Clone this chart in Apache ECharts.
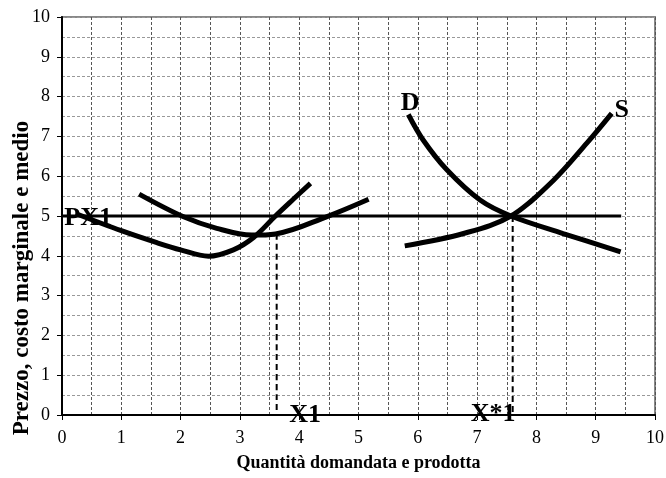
<!DOCTYPE html>
<html>
<head>
<meta charset="utf-8">
<script src="https://cdn.jsdelivr.net/npm/echarts@6/dist/echarts.min.js"></script>
<style>
  html, body { margin: 0; padding: 0; background: #fff; }
  #chart { width: 666px; height: 478px; }
</style>
</head>
<body>
<div id="chart"></div>
<script>
// curve points [quantity, price]
const marginalCost = [[0.25, 5.05], [1.0, 4.63], [1.6, 4.33], [2.0, 4.15], [2.47, 3.99], [2.89, 4.15], [3.23, 4.46], [3.6, 5.0], [3.9, 5.42], [4.19, 5.82]];
const averageCost = [[1.3, 5.55], [2.05, 4.98], [2.61, 4.69], [3.2, 4.52], [3.6, 4.55], [4.46, 4.98], [5.17, 5.42]];
const demand = [[5.84, 7.55], [6.09, 6.91], [6.49, 6.16], [7.05, 5.4], [7.57, 5.0], [8.45, 4.56], [9.42, 4.1]];
const supply = [[5.78, 4.25], [6.77, 4.56], [7.57, 5.0], [8.29, 5.9], [8.85, 6.83], [9.27, 7.58]];
const priceLine = [[0, 5], [9.43, 5]];
const dropX1 = [[3.62, 4.55], [3.62, 0]];
const dropXstar = [[7.6, 5.0], [7.6, 0]];
const textLabels = [[0.44, 4.95, "PX1"], [5.87, 7.83, "D"], [9.44, 7.66, "S"], [4.1, 0, "X1"], [7.27, 0.03, "X*1"]];

const font = "'Liberation Serif', 'DejaVu Serif', serif";

let chart = echarts.init(document.getElementById("chart"));

function curve(data, width, type) {
  return {
    type: "line",
    data: data,
    smooth: 0.35,
    symbol: "none",
    silent: true,
    lineStyle: { color: "#000", width: width, type: type || "solid" },
  };
}

const option = {
  animation: false,
  grid: {
    left: 62,
    right: 11,
    top: 17,
    bottom: 63,
    outerBoundsMode: "none",
    containLabel: false,
    show: true,
    borderColor: "#888",
    borderWidth: 2,
  },
  xAxis: {
    type: "value",
    min: 0,
    max: 10,
    interval: 1,
    name: "Quantità domandata e prodotta",
    nameLocation: "middle",
    nameGap: 39,
    nameMoveOverlap: false,
    nameTextStyle: { fontFamily: font, fontWeight: "bold", fontSize: 18, color: "#000" },
    axisLine: { show: true, lineStyle: { color: "#000", width: 2 } },
    axisTick: { show: true, length: 5, lineStyle: { color: "#000" } },
    axisLabel: { fontFamily: font, fontSize: 18, color: "#000", margin: 14 },
    splitLine: { show: true, lineStyle: { color: "#555", type: [3, 2], width: 1 } },
    minorTick: { show: false, splitNumber: 2 },
    minorSplitLine: { show: true, lineStyle: { color: "#555", type: [3, 2], width: 1 } },
  },
  yAxis: {
    type: "value",
    min: 0,
    max: 10,
    interval: 1,
    name: "Prezzo, costo marginale e medio",
    nameLocation: "middle",
    nameGap: 28,
    nameMoveOverlap: false,
    nameTextStyle: {
      fontFamily: font,
      fontWeight: "bold",
      fontSize: 23,
      color: "#000",
      padding: [0, 124, 0, 0],
    },
    axisLine: { show: true, lineStyle: { color: "#000", width: 2 } },
    axisTick: { show: true, length: 5, lineStyle: { color: "#000" } },
    axisLabel: { fontFamily: font, fontSize: 18, color: "#000", margin: 12 },
    splitLine: { show: true, lineStyle: { color: "#999", type: [3, 2], width: 1 } },
    minorTick: { show: false, splitNumber: 2 },
    minorSplitLine: { show: true, lineStyle: { color: "#999", type: [3, 2], width: 1 } },
  },
  series: [
    curve(priceLine, 3),
    curve(dropX1, 2, [6, 4]),
    curve(dropXstar, 2, [6, 4]),
    curve(averageCost, 5),
    curve(marginalCost, 5),
    curve(demand, 5),
    curve(supply, 5),
    {
      type: "scatter",
      symbolSize: 0,
      silent: true,
      data: textLabels,
      itemStyle: { opacity: 1 },
      label: {
        show: true,
        position: "inside",
        formatter: (p) => p.data[2],
        fontFamily: font,
        fontWeight: "bold",
        fontSize: 26,
        color: "#000",
        opacity: 1,
      },
      z: 10,
    },
  ],
};

chart.setOption(option);
</script>
</body>
</html>
